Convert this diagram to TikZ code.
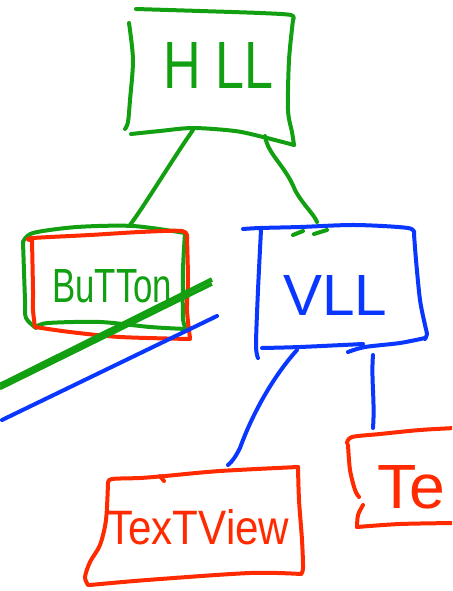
\documentclass[tikz,border=0pt]{standalone}
\usepackage{fontspec}
\setmainfont{Liberation Sans}
\usepackage{graphicx}
\definecolor{pgreen}{HTML}{12A012}
\definecolor{pred}{HTML}{FF2A00}
\definecolor{pblue}{HTML}{0A37FF}
\begin{document}
\begin{tikzpicture}[x=1pt,y=-1pt,
  stroke/.style={line width=4pt,line cap=round,line join=round},
  gs/.style={stroke,draw=pgreen},
  rs/.style={stroke,draw=pred},
  bs/.style={stroke,draw=pblue},
  lbl/.style={inner sep=0pt,anchor=west}]
\useasboundingbox (0,0) rectangle (452,591);
\clip (0,0) rectangle (452,591);
\fill[white] (0,0) rectangle (452,591);

% ---- HLL box (green)
\draw[gs] plot[smooth,tension=0.5] coordinates {(136,9) (200,11) (260,13) (291,15) (293,20)};
\draw[gs] plot[smooth,tension=0.5] coordinates {(293,20) (289,60) (288,110) (292,132) (294,145)};
\draw[gs] plot[smooth,tension=0.5] coordinates {(131,134) (160,131) (193,128) (235,131) (263,137) (294,145)};
\draw[gs] plot[smooth,tension=0.5] coordinates {(129,23) (133,60) (130,100) (128,122) (125,129)};
\node[lbl,text=pgreen] (hll) at (163,65) {\resizebox{110pt}{46pt}{H LL}};

% ---- Button box (green + red)
\draw[gs] plot[smooth,tension=0.5] coordinates {(23,242) (33,233) (77,227) (133,226) (185,233)};
\draw[gs] plot[smooth,tension=0.5] coordinates {(23,242) (25,300) (26,318) (36,328)};
\draw[gs] plot[smooth,tension=0.5] coordinates {(185,233) (183,270) (183,318) (186,328)};
\draw[gs] plot[smooth,tension=0.5] coordinates {(36,327) (48,323) (100,322) (150,327) (186,329)};
\draw[rs] plot[smooth,tension=0.5] coordinates {(29,240) (33,238) (90,235) (140,232) (182,231) (187,238)};
\draw[rs] plot[smooth,tension=0.5] coordinates {(187,238) (188,280) (187,310) (190,338)};
\draw[rs] plot[smooth,tension=0.5] coordinates {(32,240) (33,290) (33,310) (35,327)};
\draw[rs] plot[smooth,tension=0.5] coordinates {(35,327) (70,332) (120,337) (190,339)};
\node[lbl,text=pgreen] (btn) at (52,286) {\resizebox{120pt}{33pt}{BuTTon}};

% ---- diagonal lines
\coordinate (ga1) at (0,385); \coordinate (ga2) at (212,279.5);
\coordinate (gb1) at (0,388.5); \coordinate (gb2) at (212,284);
\coordinate (bl1) at (2,420); \coordinate (bl2) at (217,316);
\draw[draw=pgreen,line width=4.5pt] (ga1) -- (ga2);
\draw[draw=pgreen,line width=3.5pt] (gb1) -- (gb2);
\draw[bs] (bl1) -- (bl2);

% ---- VLL box (blue)
\draw[bs] plot[smooth,tension=0.5] coordinates {(243,229) (260,228) (300,227) (355,225) (408,228) (414,234)};
\draw[bs] plot[smooth,tension=0.5] coordinates {(414,234) (416,260) (420,300) (425,325) (427,334) (425,339)};
\draw[bs] plot[smooth,tension=0.5] coordinates {(262,348) (300,347) (363,344)};
\draw[bs] plot[smooth,tension=0.5] coordinates {(348,352) (365,347) (400,343) (425,338)};
\draw[bs] plot[smooth,tension=0.5] coordinates {(261,230) (258,290) (256,345) (258,358)};
\node[lbl,text=pblue] (vll) at (283,295) {\resizebox{104pt}{40pt}{VLL}};

% ---- TextView box (red)
\draw[rs] plot[smooth,tension=0.5] coordinates {(108,483) (112,479) (140,478) (165,476) (220,471) (298,467)};
\draw[rs] (160,476) -- (164,481);
\draw[rs] plot[smooth,tension=0.5] coordinates {(298,467) (299,500) (302,540) (303,568) (301,574)};
\draw[rs] plot[smooth,tension=0.5] coordinates {(301,574) (250,573) (147,580) (90,585)};
\draw[rs] plot[smooth,tension=0.5] coordinates {(108,483) (106,520) (100,545) (90,562) (85,577) (88,585)};
\node[lbl,text=pred] (tv) at (107,527) {\resizebox{182pt}{35pt}{TexTView}};

% ---- second TextView box (red, running off the edge)
\draw[rs] plot[smooth,tension=0.5] coordinates {(347,443) (352,437) (380,434) (420,430) (455,428)};
\draw[rs] plot[smooth,tension=0.5] coordinates {(348,445) (350,470) (355,490) (359,497)};
\draw[rs] plot[smooth,tension=0.5] coordinates {(363,505) (358,515) (357,527)};
\draw[rs] plot[smooth,tension=0.5] coordinates {(357,527) (400,524) (455,523)};
\node[lbl,text=pred] (tv2) at (377,487) {\resizebox{68pt}{43pt}{Te}};

% ---- connectors
\coordinate (hllA) at (193,130); \coordinate (btnT) at (130,225);
\coordinate (hllB) at (265,136); \coordinate (vllT) at (317,222);
\coordinate (vllA) at (297,350); \coordinate (tvT) at (228,465);
\coordinate (vllB) at (373,355); \coordinate (tv2T) at (373,428);
\draw[gs] (hllA) .. controls (172,160) and (145,205) .. (btnT);
\draw[gs] (hllB) .. controls (268,155) and (285,165) .. (295,190) .. controls (303,205) and (314,214) .. (vllT);
\draw[gs] (293,235) -- (303,231);
\draw[gs] (314,234) -- (327,230);
\draw[bs] (vllA) .. controls (270,380) and (250,420) .. (240,448) .. controls (236,456) and (232,462) .. (tvT);
\draw[bs] (vllB) .. controls (371,380) and (375,400) .. (tv2T);
\end{tikzpicture}
\end{document}
